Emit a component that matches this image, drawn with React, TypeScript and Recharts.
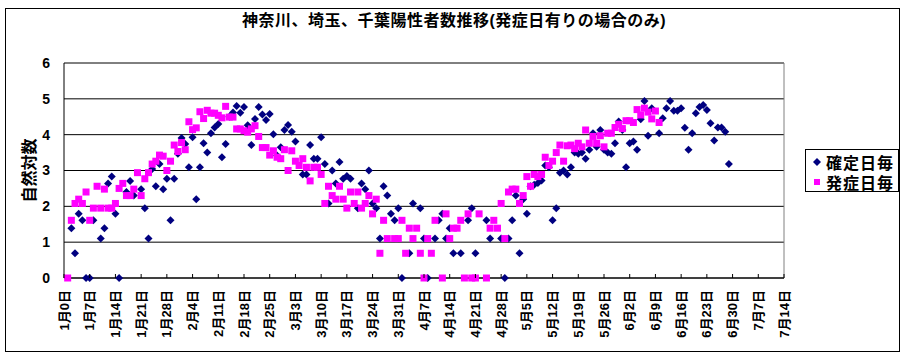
import { ScatterChart, Scatter, XAxis, YAxis, CartesianGrid, ReferenceLine } from 'recharts';

const FONT = "'Liberation Sans', 'Noto Sans CJK JP', sans-serif";

const chartTitle = '神奈川、埼玉、千葉陽性者数推移(発症日有りの場合のみ)';
const yAxisTitle = '自然対数';
const seriesNames = ['確定日毎', '発症日毎'];

// 1月0日 からの日数
const xTicks = [0, 7, 14, 21, 28, 35, 42, 49, 56, 63, 70, 77, 84, 91, 98, 105, 112, 119, 126, 133, 140, 147, 154, 161, 168, 175, 182, 189, 196];
const xTickLabels = [
  '1月0日', '1月7日', '1月14日', '1月21日', '1月28日', '2月4日', '2月11日', '2月18日', '2月25日', '3月3日',
  '3月10日', '3月17日', '3月24日', '3月31日', '4月7日', '4月14日', '4月21日', '4月28日', '5月5日', '5月12日',
  '5月19日', '5月26日', '6月2日', '6月9日', '6月16日', '6月23日', '6月30日', '7月7日', '7月14日',
];
const yTicks = [0, 1, 2, 3, 4, 5, 6];

// 確定日毎: index = 日数 (null = 点なし)
const kakuteiValues: (number | null)[] = [
  null, null, 1.39, 0.69, 1.79, 1.61, 0, 0, 1.61, null,
  1.1, 1.39, 2.64, 2.83, 1.79, 0, null, 2.4, 2.71, 2.3,
  null, 2.48, 1.95, 1.1, 3.04, 2.56, 3.18, 2.48, 2.77, 1.61,
  2.77, 3.47, 3.91, 3.74, 3.09, 3.93, 2.2, 3.09, 3.76, 3.5,
  4.04, 4.2, 4.3, 3.37, 3.74, 4.5, 4.62, 4.8, 4.61, 4.77,
  4.26, 3.71, 4.44, 4.77, 4.56, 4.41, 4.58, 4.01, 3.42, 3.65,
  4.13, 4.27, 4.08, 3.81, null, 2.89, 2.89, 3.71, 3.33, 3.33,
  3.93, 3.18, 2.08, 3.0, 2.64, 3.24, 2.77, 2.85, 2.77, null,
  1.95, 2.64, 2.48, 3.0, 2.08, 1.95, 1.1, 2.56, 2.3, 1.79,
  1.61, 1.95, 0, null, 0.69, 2.08, null, 1.95, 1.1, 0,
  null, 1.1, 1.61, 1.79, 1.1, 1.39, 0.69, null, 0.69, null,
  1.61, 1.95, 0.69, null, null, 1.61, 1.1, null, null, 1.1,
  0, 1.1, 1.61, 2.3, 0.69, 2.2, 1.79, 2.56, 2.6, 2.65,
  2.72, 3.14, 3.09, 1.61, 1.95, 2.94, 3.0, 2.89, 3.09, 3.5,
  3.47, 3.5, 3.33, 3.58, 4.04, 3.66, 4.13, 3.58, 3.5, 3.47,
  3.76, 4.37, 4.13, 3.09, 3.76, 3.81, 3.58, 4.43, 4.94, 3.97,
  4.74, null, 4.04, 4.46, 4.74, 4.94, 4.67, 4.67, 4.74, 4.19,
  3.58, 4.04, 4.6, 4.77, 4.83, 4.69, 4.32, 3.84, 4.2, 4.2,
  4.08, 3.18,
];

// 発症日毎: index = 日数 (null = 点なし)
const hasshoValues: (number | null)[] = [
  null, 0, 1.61, 2.08, 2.2, 2.08, 2.4, 1.61, 1.95, 2.56,
  1.95, 2.48, 1.95, 1.95, 2.08, 2.5, 2.64, 2.3, 2.3, 2.48,
  2.94, 2.3, 2.77, 2.94, 3.18, 3.26, 3.43, 3.4, 3.0, 3.26,
  3.71, 3.53, 3.78, 3.58, 4.36, 4.14, 4.19, 4.64, 4.45, 4.68,
  4.6, 4.6, 4.54, 4.47, 4.79, 4.49, 4.49, 4.16, 4.16, 4.11,
  4.07, 4.16, 4.25, 3.95, 3.64, 3.64, 3.43, 3.55, 3.37, 3.33,
  3.58, 3.0, 3.55, 3.26, 3.14, 3.33, 3.09, 2.71, 3.09, 3.09,
  2.89, 2.08, 2.56, 2.3, 2.2, 2.56, 2.2, 1.95, 2.4, 2.08,
  2.4, 1.95, 2.08, 2.3, 1.79, 2.2, 0.69, 1.61, 1.1, null,
  1.1, 1.1, 1.61, 0.69, 1.39, 1.1, 1.39, 0.69, 0, 1.1,
  0.69, 1.61, null, 0, 1.79, 1.1, 1.39, 1.39, 1.61, 0,
  1.79, 0, 0, 1.79, null, 0, 1.39, 1.61, 1.39, 2.08,
  1.1, 2.4, 2.48, 2.48, 2.08, 2.3, 2.83, 2.56, 2.89, 2.83,
  2.89, 3.37, 3.14, 3.26, 3.5, 3.71, 3.26, 3.69, 3.71, 3.61,
  3.76, 3.66, 4.13, 3.76, 3.95, 3.76, 3.97, 3.66, 4.04, 4.04,
  4.2, 4.29, 4.17, 4.39, 4.39, 4.34, 4.7, 4.55, 4.74, 4.63,
  4.44, 4.66, 4.34,
];

const NAVY = '#000080';
const MAGENTA = '#FF00FF';

const toPoints = (vals: (number | null)[]) =>
  vals.flatMap((v, i) => (v === null ? [] : [{ day: i, value: v }]));

const kakuteiData = toPoints(kakuteiValues);
const hasshoData = toPoints(hasshoValues);

const DiamondShape = (props: any) => {
  const { cx, cy } = props;
  const r = 4;
  return <polygon points={`${cx},${cy - r} ${cx + r},${cy} ${cx},${cy + r} ${cx - r},${cy}`} fill={NAVY} />;
};

const SquareShape = (props: any) => {
  const { cx, cy } = props;
  return <rect x={cx - 3.5} y={cy - 3.5} width={7} height={7} fill={MAGENTA} />;
};

const XTick = (props: any) => {
  const { x, y, payload } = props;
  const label = xTickLabels[xTicks.indexOf(payload.value)];
  return (
    <g transform={`translate(${x},${y})`}>
      <line x1={0} y1={-4} x2={0} y2={0} stroke="#000" />
      <text
        transform="rotate(-90)"
        x={-12}
        y={0}
        textAnchor="end"
        dominantBaseline="central"
        fontSize={13}
        fontWeight="bold"
        fontFamily={FONT}
        fill="#000"
      >
        {label}
      </text>
    </g>
  );
};

const YLabel = (props: any) => {
  const { viewBox } = props;
  const x = viewBox.x + 25;
  const y = viewBox.y + viewBox.height / 2;
  return (
    <text
      x={x}
      y={y}
      transform={`rotate(-90, ${x}, ${y})`}
      textAnchor="middle"
      dominantBaseline="central"
      fontSize={16}
      fontWeight="bold"
      fontFamily={FONT}
      fill="#000"
    >
      {yAxisTitle}
    </text>
  );
};

export default function App() {
  return (
    <div style={{ position: 'absolute', left: 0, top: 0, width: 908, height: 356, background: '#fff', fontFamily: FONT }}>
      <div
        style={{
          position: 'absolute', left: 5, top: 8, width: 895, height: 344,
          border: '1px solid #000', boxSizing: 'border-box',
        }}
      />
      <div
        style={{
          position: 'absolute', left: 0, top: 11, width: 908, textAlign: 'center',
          fontSize: 16, fontWeight: 'bold', letterSpacing: 0.5, lineHeight: '20px',
        }}
      >
        {chartTitle}
      </div>
      <ScatterChart width={908} height={356} margin={{ top: 63, right: 124, bottom: 18, left: 4 }}>
        <CartesianGrid horizontal vertical={false} stroke="#000" />
        <XAxis
          type="number"
          dataKey="day"
          domain={[0, 196]}
          ticks={xTicks}
          interval={0}
          height={60}
          tickSize={0}
          tickMargin={0}
          tickLine={false}
          axisLine={{ stroke: '#000' }}
          tick={<XTick />}
        />
        <YAxis
          type="number"
          dataKey="value"
          domain={[0, 6]}
          ticks={yTicks}
          interval={0}
          width={60}
          tickSize={0}
          tickMargin={14}
          tickLine={false}
          axisLine={{ stroke: '#000' }}
          tick={{ fontSize: 14, fontWeight: 'bold', fill: '#000', fontFamily: FONT }}
          label={<YLabel />}
        />
        <ReferenceLine y={6} stroke="#808080" />
        <ReferenceLine x={196} stroke="#808080" />
        <Scatter name={seriesNames[0]} data={kakuteiData} shape={<DiamondShape />} isAnimationActive={false} />
        <Scatter name={seriesNames[1]} data={hasshoData} shape={<SquareShape />} isAnimationActive={false} />
      </ScatterChart>
      <div
        style={{
          position: 'absolute', left: 805, top: 149, width: 94, height: 43,
          border: '1px solid #000', boxSizing: 'border-box', background: '#fff',
          fontSize: 16, fontWeight: 'bold', letterSpacing: 1,
        }}
      >
        <div style={{ position: 'absolute', left: 6, top: 2, display: 'flex', alignItems: 'center', height: 20 }}>
          <svg width={10} height={10} style={{ marginRight: 4 }}>
            <polygon points="5,1 9,5 5,9 1,5" fill={NAVY} />
          </svg>
          <span>{seriesNames[0]}</span>
        </div>
        <div style={{ position: 'absolute', left: 6, top: 22, display: 'flex', alignItems: 'center', height: 20 }}>
          <svg width={10} height={10} style={{ marginRight: 4 }}>
            <rect x={2} y={2} width={6} height={6} fill={MAGENTA} />
          </svg>
          <span>{seriesNames[1]}</span>
        </div>
      </div>
    </div>
  );
}
